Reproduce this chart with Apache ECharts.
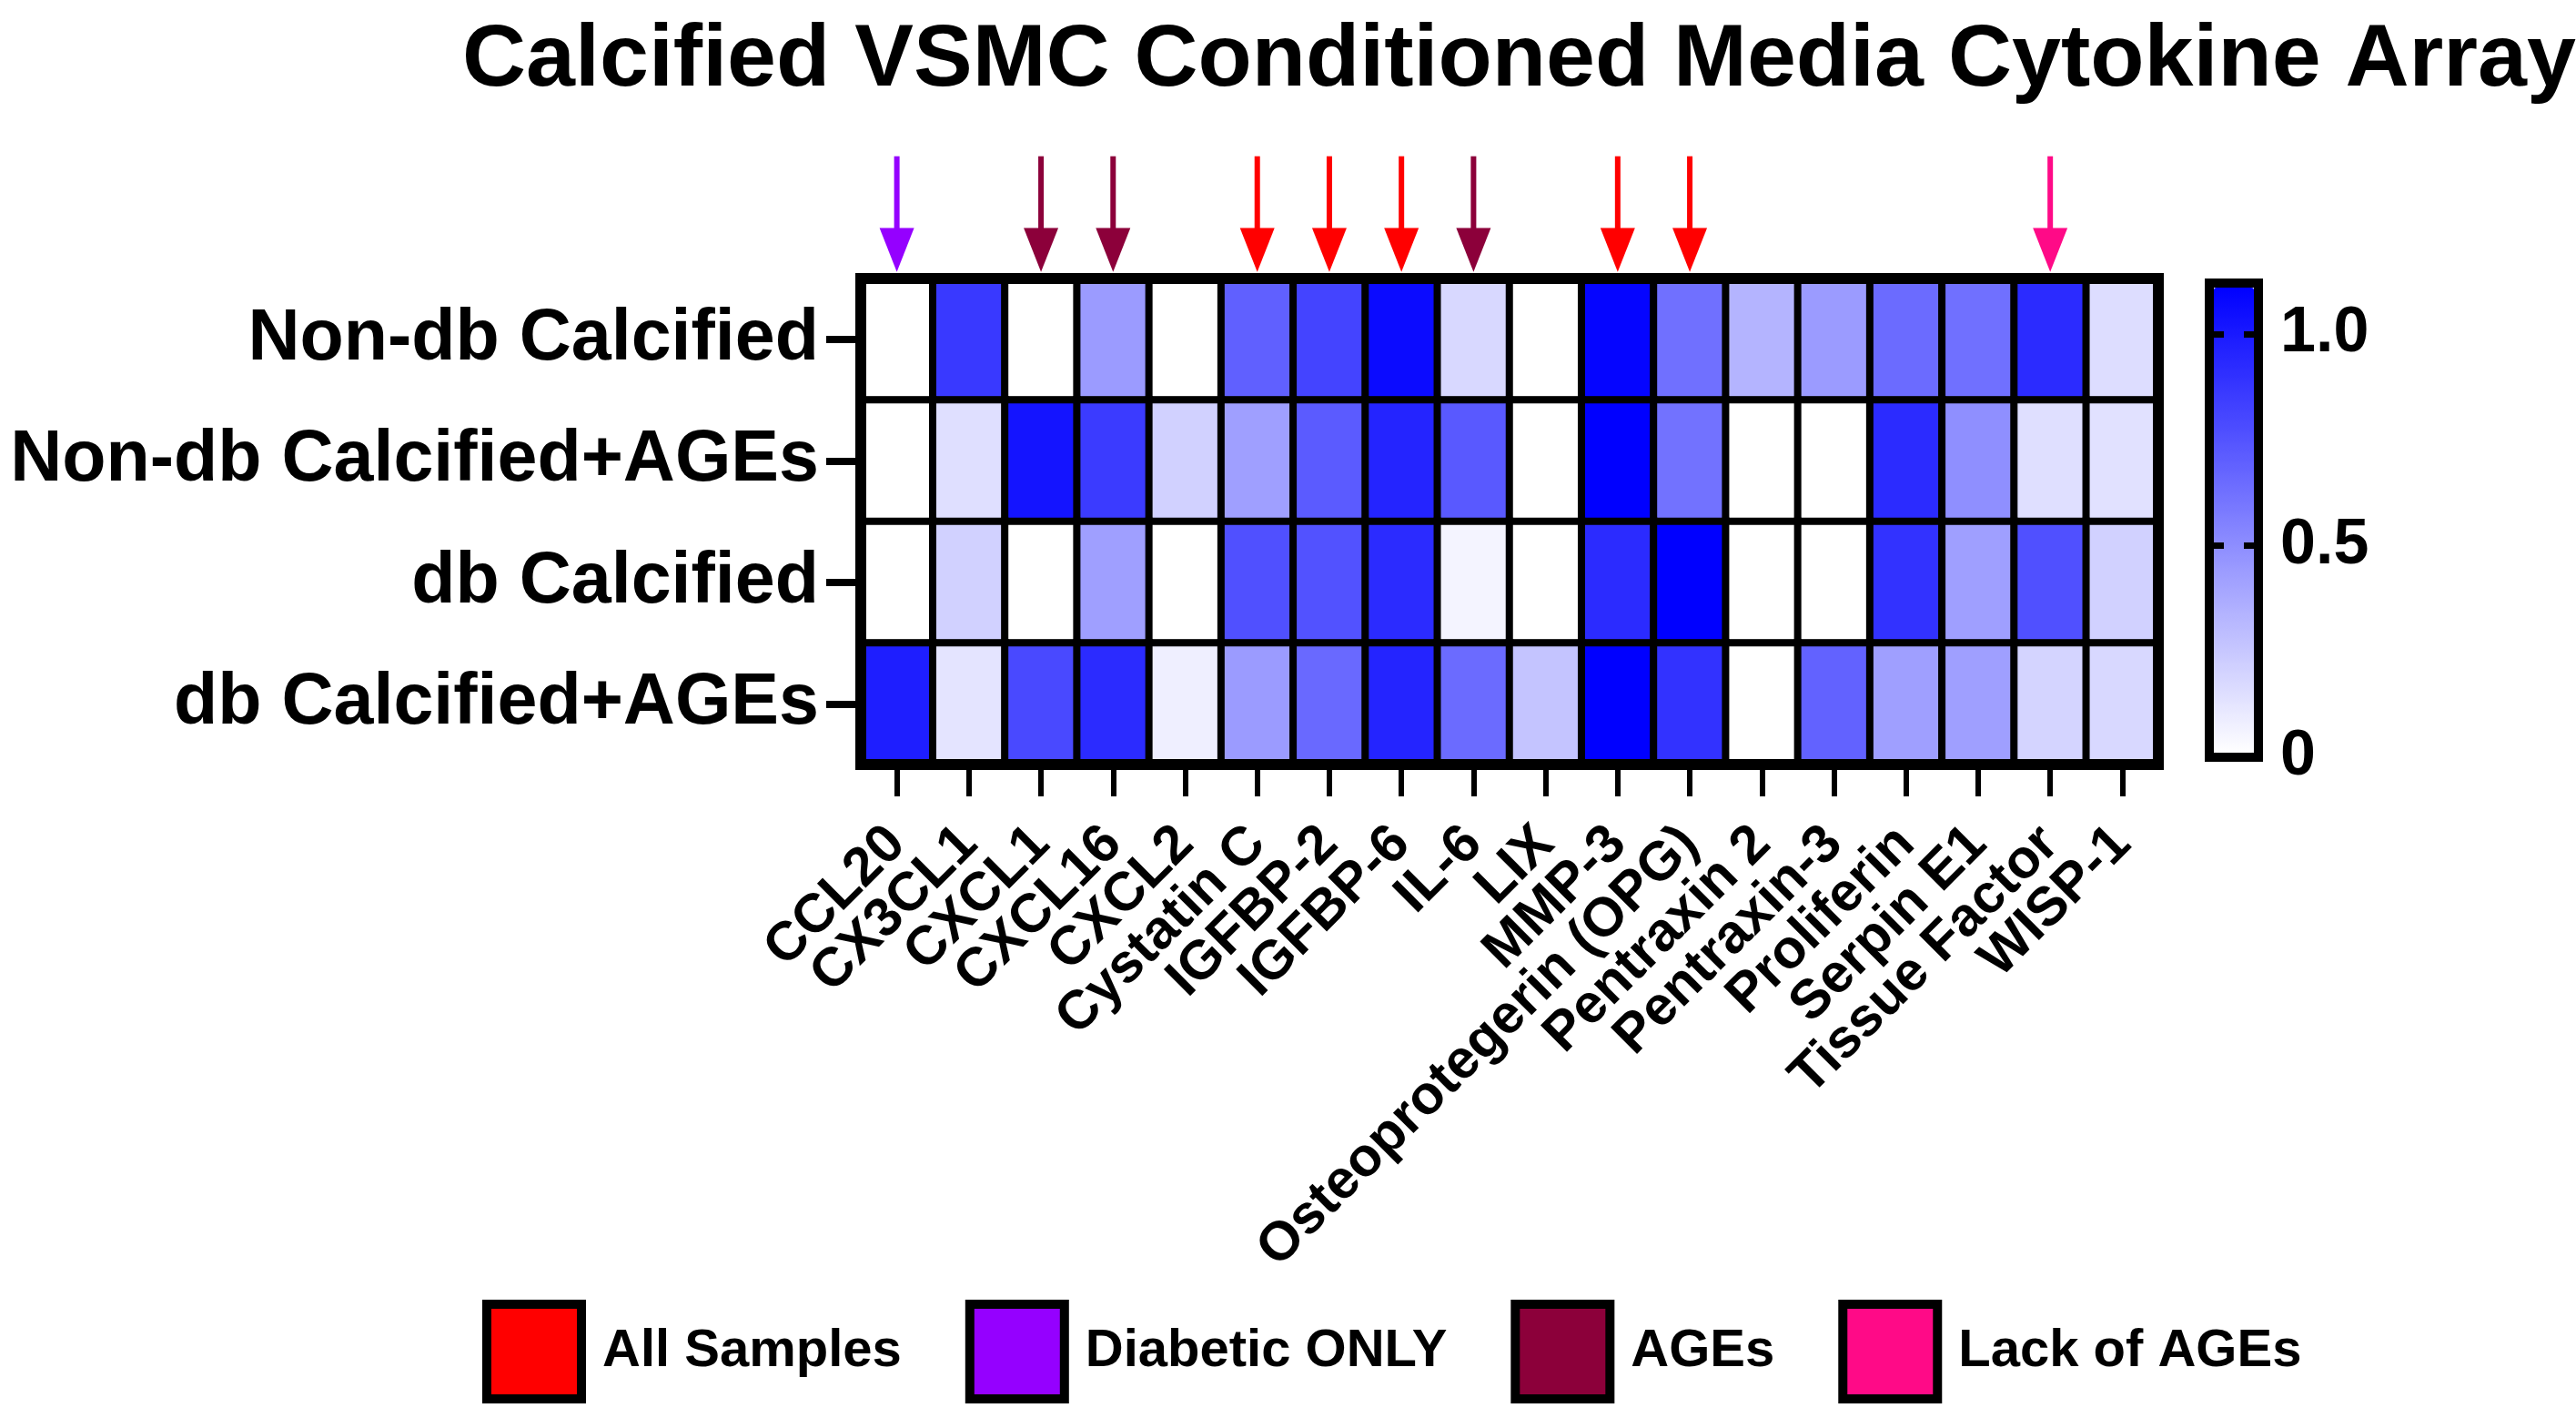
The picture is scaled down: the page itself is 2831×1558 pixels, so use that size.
<!DOCTYPE html>
<html>
<head>
<meta charset="utf-8">
<script src="https://cdn.jsdelivr.net/npm/echarts@6/dist/echarts.min.js"></script>
<style>
html,body{margin:0;padding:0;background:#fff;}
#chart{width:2831px;height:1558px;}
</style>
</head>
<body>
<div id="chart"></div>
<script>
const cytokines = ['CCL20','CX3CL1','CXCL1','CXCL16','CXCL2','Cystatin C','IGFBP-2','IGFBP-6','IL-6','LIX','MMP-3','Osteoprotegerin (OPG)','Pentraxin 2','Pentraxin-3','Proliferin','Serpin E1','Tissue Factor','WISP-1'];
const samples = ['Non-db Calcified','Non-db Calcified+AGEs','db Calcified','db Calcified+AGEs'];

const nonDbCalcified     = [0, 0.87, 0, 0.44, 0, 0.70, 0.82, 1.07, 0.17, 0, 1.10, 0.63, 0.33, 0.44, 0.65, 0.63, 0.93, 0.15];
const nonDbCalcifiedAGEs = [0, 0.14, 1.03, 0.86, 0.20, 0.42, 0.72, 0.96, 0.73, 0, 1.12, 0.62, 0, 0, 0.93, 0.49, 0.14, 0.13];
const dbCalcified        = [0, 0.20, 0, 0.42, 0, 0.77, 0.76, 0.93, 0.05, 0, 0.93, 1.12, 0, 0, 0.90, 0.42, 0.77, 0.20];
const dbCalcifiedAGEs    = [0.99, 0.12, 0.80, 0.93, 0.07, 0.44, 0.66, 0.96, 0.65, 0.26, 1.12, 0.90, 0, 0.69, 0.42, 0.42, 0.19, 0.17];

const colorbarMin = 0;
const colorbarMax = 1.12;
const colorbarTicks = [0, 0.5, 1];

// arrow marker groups
const allSamples   = ['Cystatin C','IGFBP-2','IGFBP-6','MMP-3','Osteoprotegerin (OPG)'];
const diabeticOnly = ['CCL20'];
const agesGroup    = ['CXCL1','CXCL16','IL-6'];
const lackOfAges   = ['Tissue Factor'];

const rows = [nonDbCalcified, nonDbCalcifiedAGEs, dbCalcified, dbCalcifiedAGEs];
const heatData = [];
rows.forEach((r, yi) => r.forEach((v, xi) => heatData.push([xi, yi, v])));

const FONT = "'Liberation Sans', Arial, sans-serif";

function arrowItem(params, api) {
  const x = api.value(0);
  const top = api.coord([x, 0.92]);
  const head = api.coord([x, 0.38]);
  const tip = api.coord([x, 0.05]);
  const color = api.visual('color');
  return {
    type: 'group',
    children: [
      {type: 'line', shape: {x1: top[0], y1: top[1], x2: head[0], y2: head[1] + 4}, style: {stroke: color, lineWidth: 6}},
      {type: 'polygon', shape: {points: [[head[0] - 19, head[1]], [head[0] + 19, head[1]], [tip[0], tip[1]]]}, style: {fill: color}}
    ]
  };
}
function arrowSeries(name, list, color) {
  return {
    name: name,
    type: 'custom',
    xAxisIndex: 2, yAxisIndex: 2,
    renderItem: arrowItem,
    itemStyle: {color: color},
    data: list.map(n => [cytokines.indexOf(n), 0]),
    silent: true
  };
}

const chart = echarts.init(document.getElementById('chart'), null, {renderer: 'canvas'});
chart.setOption({
  backgroundColor: '#ffffff',
  animation: false,
  title: {
    text: 'Calcified VSMC Conditioned Media Cytokine Array',
    left: 503, top: 14,
    textStyle: {fontFamily: FONT, fontWeight: 'bold', fontSize: 97, color: '#000'}
  },
  grid: [
    {left: 946, top: 306, width: 1426, height: 534, show: true, borderColor: '#000', borderWidth: 12, backgroundColor: 'transparent', z: 3, outerBoundsMode: 'none'},
    {left: 2428, top: 311, width: 54, height: 521, show: true, borderColor: '#000', borderWidth: 10, backgroundColor: 'transparent', z: 6, outerBoundsMode: 'none'},
    {left: 946, top: 160, width: 1426, height: 146, show: false, outerBoundsMode: 'none'}
  ],
  xAxis: [
    {
      type: 'category', gridIndex: 0, data: cytokines, position: 'bottom',
      axisLine: {show: false},
      axisTick: {show: true, alignWithLabel: true, length: 35, lineStyle: {color: '#000', width: 6}},
      axisLabel: {rotate: 45, interval: 0, margin: 78, color: '#000', fontFamily: FONT, fontWeight: 'bold', fontSize: 60},
      splitLine: {show: false}
    },
    {type: 'value', gridIndex: 1, show: false, min: 0, max: 1},
    {type: 'category', gridIndex: 2, data: cytokines, show: false}
  ],
  yAxis: [
    {
      type: 'category', gridIndex: 0, data: samples, inverse: true,
      axisLine: {show: false},
      axisTick: {show: true, alignWithLabel: true, length: 38, lineStyle: {color: '#000', width: 8}},
      axisLabel: {margin: 46, color: '#000', fontFamily: FONT, fontWeight: 'bold', fontSize: 79},
      splitLine: {show: false}
    },
    {
      type: 'value', gridIndex: 1, min: colorbarMin, max: colorbarMax, interval: 0.5, position: 'left', z: 10,
      axisLine: {show: false},
      axisTick: {show: true, inside: true, length: 16, customValues: [0.5, 1], lineStyle: {color: '#000', width: 7}},
      axisLabel: {show: false},
      splitLine: {show: false}
    },
    {
      type: 'value', gridIndex: 2, min: 0, max: 1, show: false
    },
    {
      type: 'value', gridIndex: 1, min: colorbarMin, max: colorbarMax, interval: 0.5, position: 'right', z: 10,
      axisLine: {show: false},
      axisTick: {show: true, inside: true, length: 16, customValues: [0.5, 1], lineStyle: {color: '#000', width: 7}},
      axisLabel: {
        show: true, margin: 24, customValues: colorbarTicks, color: '#000', fontFamily: FONT, fontWeight: 'bold', fontSize: 70,
        formatter: v => (Math.abs(v - 1) < 1e-9 ? '1.0' : Math.abs(v - 0.5) < 1e-9 ? '0.5' : Math.abs(v) < 1e-9 ? '0' : '')
      },
      splitLine: {show: false}
    }
  ],
  visualMap: {
    type: 'continuous',
    seriesIndex: 0,
    min: colorbarMin, max: colorbarMax,
    calculable: false, realtime: false, hoverLink: false,
    orient: 'vertical',
    left: 2433, top: 316,
    itemWidth: 44, itemHeight: 511,
    padding: 0,
    text: null,
    inRange: {color: ['#FFFFFF', '#0000FF']}
  },
  legend: {
    data: ['All Samples', 'Diabetic ONLY', 'AGEs', 'Lack of AGEs'],
    left: 530, top: 1428,
    padding: 0,
    icon: 'rect',
    itemWidth: 104, itemHeight: 104,
    itemGap: 70,
    itemStyle: {borderColor: '#000', borderWidth: 10},
    selectedMode: false,
    textStyle: {fontFamily: FONT, fontWeight: 'bold', fontSize: 58, color: '#000', padding: [0, 0, 0, 18]}
  },
  series: [
    {
      type: 'heatmap', xAxisIndex: 0, yAxisIndex: 0,
      data: heatData,
      itemStyle: {borderColor: '#000', borderWidth: 8},
      emphasis: {disabled: true},
      silent: true
    },
    {type: 'scatter', xAxisIndex: 1, yAxisIndex: 3, data: [], silent: true},
    arrowSeries('All Samples', allSamples, '#FF0000'),
    arrowSeries('Diabetic ONLY', diabeticOnly, '#9500FF'),
    arrowSeries('AGEs', agesGroup, '#8C003A'),
    arrowSeries('Lack of AGEs', lackOfAges, '#FF0A87')
  ]
});
</script>
</body>
</html>
